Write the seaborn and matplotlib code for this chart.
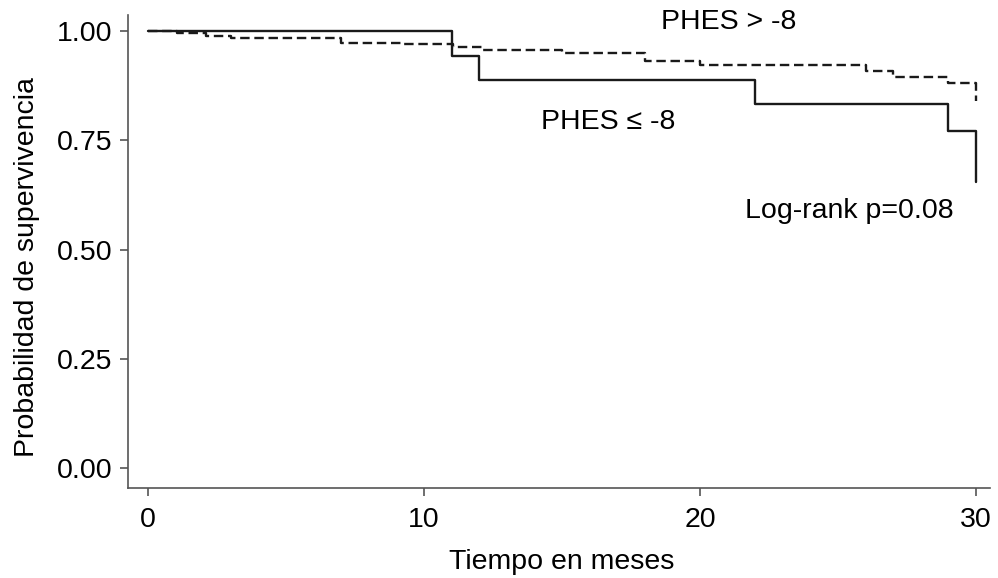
import matplotlib
matplotlib.use("Agg")
import matplotlib.pyplot as plt
import seaborn as sns
import pandas as pd

# Data
t_high = [0, 1.05, 2.1, 3.0, 7.0, 9.2, 11.05, 12.1, 15.0, 18.0, 20.0, 26.0, 27.0, 29.0, 30.0]
s_high = [1.0, 0.996, 0.990, 0.984, 0.974, 0.971, 0.964, 0.958, 0.950, 0.932, 0.922, 0.909, 0.894, 0.882, 0.84]
t_low = [0, 11, 12, 22, 29, 30]
s_low = [1.0, 0.944, 0.889, 0.833, 0.772, 0.655]
groups = ["PHES > -8", "PHES ≤ -8"]
x_ticks = [0, 10, 20, 30]
y_ticks = [0.00, 0.25, 0.50, 0.75, 1.00]

df = pd.concat([
    pd.DataFrame({"t": t_high, "s": s_high, "g": groups[0]}),
    pd.DataFrame({"t": t_low, "s": s_low, "g": groups[1]}),
])

sns.set_style("ticks")
plt.rcParams["font.family"] = ["Liberation Sans", "DejaVu Sans"]
plt.rcParams["text.color"] = "black"
FS = 20.5

fig = plt.figure(figsize=(9.98, 5.78), dpi=100)
ax = fig.add_axes([128/998, (578-488)/578, 862/998, (488-15)/578])

sns.lineplot(data=df, x="t", y="s", hue="g", style="g",
             palette={groups[0]: "#1a1a1a", groups[1]: "#1a1a1a"},
             dashes={groups[0]: (4, 2), groups[1]: ""},
             estimator=None, sort=True, drawstyle="steps-post",
             linewidth=1.7, legend=False, ax=ax)

ax.set_xlim(-0.725, 30.51)
ax.set_ylim(-0.046, 1.037)
ax.set_xticks(x_ticks)
ax.set_yticks(y_ticks)
ax.set_yticklabels([f"{v:.2f}" for v in y_ticks])
for s in ["top", "right"]:
    ax.spines[s].set_visible(False)
for s in ["left", "bottom"]:
    ax.spines[s].set_color("#555555")
    ax.spines[s].set_linewidth(1.2)
ax.tick_params(axis="both", colors="#555555", labelcolor="black",
               length=6, width=1.2, labelsize=FS, pad=5)
ax.tick_params(axis="x", pad=8)
ax.set_xlabel("Tiempo en meses", fontsize=FS, color="black")
ax.set_ylabel("Probabilidad de supervivencia", fontsize=FS, color="black")
ax.xaxis.set_label_coords((562 - 128) / 862, -(562 - 488) / 473)
ax.yaxis.set_label_coords((27 - 128) / 862, (488 - 267) / 473)
ax.xaxis.label.set_verticalalignment("center")
ax.yaxis.label.set_verticalalignment("center")

ax.text(18.6, 1.02, groups[0], fontsize=FS, va="center", ha="left", color="black")
ax.text(14.24, 0.792, groups[1], fontsize=FS, va="center", ha="left", color="black")
ax.text(21.63, 0.588, "Log-rank p=0.08", fontsize=FS, va="center", ha="left", color="black")

fig.savefig("out.png", dpi=100)
